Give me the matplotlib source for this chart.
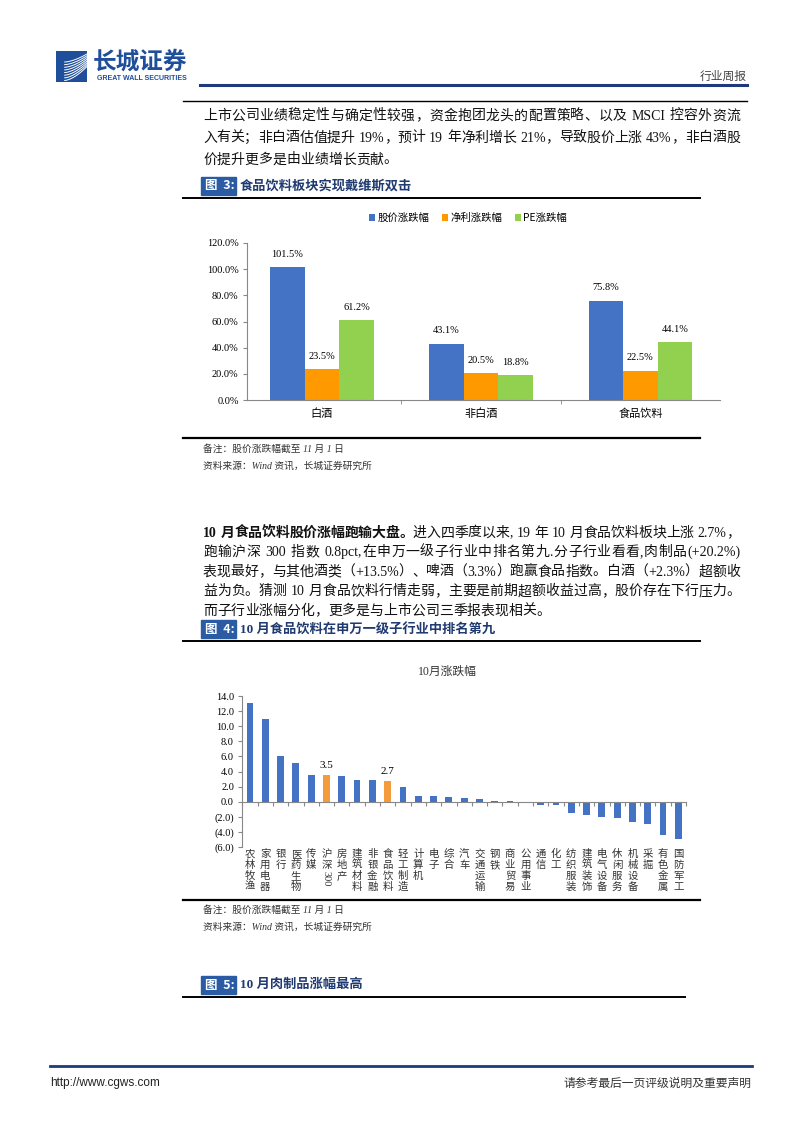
import numpy as np
import matplotlib
matplotlib.use("Agg")
import matplotlib.pyplot as plt
from matplotlib.lines import Line2D
from matplotlib.patches import Rectangle

SERIF = ["Liberation Serif", "Noto Sans CJK SC", "DejaVu Sans"]
SANS = ["Noto Sans CJK SC", "DejaVu Sans"]
plt.rcParams["font.family"] = SERIF

W, H = 802, 1133

# chart 3 data
cats3 = ["白酒", "非白酒", "食品饮料"]
series3 = ["股价涨跌幅", "净利涨跌幅", "PE涨跌幅"]
price_chg = [101.5, 43.1, 75.8]
profit_chg = [23.5, 20.5, 22.5]
pe_chg = [61.2, 18.8, 44.1]

# chart 4 data
industries = ["农林牧渔", "家用电器", "银行", "医药生物", "传媒", "沪深300", "房地产",
              "建筑材料", "非银金融", "食品饮料", "轻工制造", "计算机", "电子", "综合",
              "汽车", "交通运输", "钢铁", "商业贸易", "公用事业", "通信", "化工",
              "纺织服装", "建筑装饰", "电气设备", "休闲服务", "机械设备", "采掘",
              "有色金属", "国防军工"]
oct_chg = [13.1, 11.0, 6.0, 5.1, 3.5, 3.5, 3.4, 2.9, 2.9, 2.7, 2.0, 0.8, 0.7, 0.6,
           0.5, 0.4, 0.1, 0.05, -0.2, -0.5, -0.5, -1.5, -1.8, -2.0, -2.1, -2.7, -2.9,
           -4.4, -4.9]
highlight = ["沪深300", "食品饮料"]

# page text
para1 = ["上市公司业绩稳定性与确定性较强，资金抱团龙头的配置策略、以及 MSCI 控容外资流",
         "入有关；非白酒估值提升 19%，预计 19 年净利增长 21%，导致股价上涨 43%，非白酒股",
         "价提升更多是由业绩增长贡献。"]
para2_bold = "10 月食品饮料股价涨幅跑输大盘。"
para2 = ["进入四季度以来, 19 年 10 月食品饮料板块上涨 2.7%，",
         "跑输沪深 300 指数 0.8pct,在申万一级子行业中排名第九.分子行业看看,肉制品(+20.2%)",
         "表现最好，与其他酒类（+13.5%）、啤酒（3.3%）跑赢食品指数。白酒（+2.3%）超额收",
         "益为负。猜测 10 月食品饮料行情走弱，主要是前期超额收益过高，股价存在下行压力。",
         "而子行业涨幅分化，更多是与上市公司三季报表现相关。"]
note1 = "备注：股价涨跌幅截至 11 月 1 日"
note2 = "资料来源：Wind 资讯，长城证券研究所"

fig = plt.figure(figsize=(W / 100, H / 100), dpi=100)
renderer = fig.canvas.get_renderer()


def fx(x):
    return x / W


def fy(y):
    return 1 - y / H


def hline(x0, x1, y, color="black", lw=1.0):
    fig.add_artist(Line2D([fx(x0), fx(x1)], [fy(y), fy(y)], color=color, lw=lw))


def put(x, y, s, **kw):
    kw.setdefault("va", "center")
    return fig.text(fx(x), fy(y), s, **kw)


def tokens(s):
    out, buf = [], ""
    for ch in s:
        if ch.isascii() and ch != " ":
            buf += ch
        else:
            if buf:
                out.append(buf)
                buf = ""
            out.append(ch)
    if buf:
        out.append(buf)
    return out


def text_line(x0, x1, y, segs, size=10, justify=True):
    em = size * 100 / 72
    items = []
    for s, weight in segs:
        for tok in tokens(s):
            t = put(x0, y, tok, fontsize=size, fontweight=weight, family=SERIF,
                    ha="left", color="#111111")
            if tok == " ":
                w = em * 0.3
            elif not tok.isascii():
                w = em
            else:
                w = t.get_window_extent(renderer).width
            items.append((t, w))
    total = sum(w for _, w in items)
    gap = (x1 - x0 - total) / (len(items) - 1) if justify else 0
    x = x0
    for t, w in items:
        t.set_x(fx(x))
        x += w + gap


def caption(y, num, title, x1):
    fig.add_artist(Rectangle((fx(201), fy(y + 9)), 35 / W, 18 / H,
                             transform=fig.transFigure, color="#2B5BA3"))
    put(205, y, "图  " + num + ":", color="white", fontsize=9, fontweight="bold", family=SANS)
    put(240, y, title, color="#1F3A70", fontsize=9.5, fontweight="bold", family=SERIF)
    hline(183, x1, y + 12, lw=1.4)


def notes(y):
    put(203, y, note1, fontsize=7, style="italic", color="#333333", family=SERIF)
    put(203, y + 17, note2, fontsize=7, style="italic", color="#333333", family=SERIF)


# header
axl = fig.add_axes([fx(56), fy(82), 31 / W, 31 / H])
axl.set_xlim(0, 1)
axl.set_ylim(0, 1)
axl.axis("off")
axl.add_patch(Rectangle((0, 0), 1, 1, color="#1F4E9B"))
tt = np.linspace(0, 1, 60)
for k in range(8):
    axl.plot(0.28 + 0.72 * tt, 0.05 + k * 0.085 + 0.45 * tt ** 1.6 * (1 - k * 0.06),
             color="white", lw=0.7)
put(93, 62, "长城证券", fontsize=17, fontweight="bold", color="#1F4E9B", family=SANS)
put(97, 78, "GREAT WALL SECURITIES", fontsize=5, fontweight="bold", color="#1F4E9B",
    family=["Liberation Sans", "DejaVu Sans"])
hline(200, 747, 85, color="#1F3A7A", lw=2.2)
put(747, 76, "行业周报", fontsize=8.5, ha="right", color="#444444", family=SANS)
hline(183, 747, 101, lw=1.0)

# paragraph 1
for i, line in enumerate(para1):
    text_line(203, 740, 116 + 22 * i, [(line, "normal")], justify=i < 2)

# figure 3
caption(186, "3", "食品饮料板块实现戴维斯双击", 700)
ax3 = fig.add_axes([fx(247), fy(400), (720 - 247) / W, (400 - 243) / H])
x3 = np.arange(len(cats3))
bw = 0.217
colors3 = ["#4472C4", "#FF9900", "#92D050"]
for k, (vals, c, name) in enumerate(zip([price_chg, profit_chg, pe_chg], colors3, series3)):
    bars = ax3.bar(x3 + (k - 1) * bw, vals, bw, color=c, label=name)
    ax3.bar_label(bars, labels=[f"{v:.1f}%" for v in vals], padding=6, fontsize=7.5)
ax3.set_xlim(-0.47, 2.5)
ax3.set_ylim(0, 120)
yt3 = list(range(0, 121, 20))
ax3.set_yticks(yt3)
ax3.set_yticklabels([f"{v:.1f}%" for v in yt3], fontsize=7.5)
ax3.set_xticks(x3)
ax3.set_xticklabels(cats3, fontsize=8, family=SANS)
ax3.set_xticks([0.5, 1.5], minor=True)
ax3.tick_params(axis="x", which="major", length=0, pad=6)
ax3.tick_params(axis="x", which="minor", length=3, color="#888888")
ax3.tick_params(axis="y", length=3, color="#888888", pad=3)
for s in ["top", "right"]:
    ax3.spines[s].set_visible(False)
for s in ["left", "bottom"]:
    ax3.spines[s].set_color("#888888")
    ax3.spines[s].set_linewidth(0.8)
ax3.legend(loc="center", bbox_to_anchor=(fx(468), fy(218)), bbox_transform=fig.transFigure,
           ncol=3, frameon=False, handlelength=0.6, handleheight=0.6, handletextpad=0.2,
           columnspacing=1.2, prop={"family": SANS, "size": 7.5})
hline(183, 700, 438, lw=1.6)
notes(449)

# paragraph 2
for i, line in enumerate(para2):
    segs = [(line, "normal")]
    if i == 0:
        segs = [(para2_bold, "bold")] + segs
    text_line(203, 740, 533 + 19.5 * i, segs, justify=i < 4)

# figure 4
caption(629, "4", "10 月食品饮料在申万一级子行业中排名第九", 700)
put(447, 672, "10月涨跌幅", fontsize=8.5, ha="center", color="#333333")
ax4 = fig.add_axes([fx(242.3), fy(847), (686 - 242.3) / W, (847 - 696) / H])
x4 = np.arange(len(industries))
colors4 = ["#F39C3C" if n in highlight else "#4472C4" for n in industries]
bars4 = ax4.bar(x4, oct_chg, 0.45, color=colors4)
ax4.bar_label(bars4, labels=[f"{v:.1f}" if n in highlight else "" for n, v in zip(industries, oct_chg)],
              padding=4, fontsize=8)
ax4.set_xlim(-0.5, len(industries) - 0.5)
ax4.set_ylim(-6, 14)
yt4 = list(range(-6, 15, 2))
ax4.set_yticks(yt4)
ax4.set_yticklabels([f"{v:.1f}" if v >= 0 else f"({-v:.1f})" for v in yt4], fontsize=7.5)
ax4.set_xticks(np.arange(-0.5, len(industries), 1))
ax4.set_xticklabels([])
ax4.spines["bottom"].set_position(("data", 0))
for s in ["top", "right"]:
    ax4.spines[s].set_visible(False)
for s in ["left", "bottom"]:
    ax4.spines[s].set_color("#888888")
    ax4.spines[s].set_linewidth(0.8)
ax4.tick_params(axis="x", length=3, color="#888888")
ax4.tick_params(axis="y", length=3, color="#888888", pad=3)
for i, name in enumerate(industries):
    xd = ax4.transData.transform((i, 0))[0]
    chars = list(name)
    if name == "沪深300":
        chars = ["沪", "深"]
        put(xd, 879, "300", fontsize=7.5, rotation=270, ha="center", color="#333333")
    for j, ch in enumerate(chars):
        put(xd, 854 + 11 * j, ch, fontsize=7.5, ha="center", color="#333333", family=SANS)
hline(183, 700, 900, lw=1.6)
notes(910)

# figure 5 caption
caption(985, "5", "10 月肉制品涨幅最高", 685)

# footer
hline(50, 752, 1066, color="#1F3A7A", lw=2.0)
put(50, 1083, "http://www.cgws.com", fontsize=8.5, color="#222222",
    family=["Liberation Sans", "DejaVu Sans"])
put(752, 1083, "请参考最后一页评级说明及重要声明", fontsize=8.5, ha="right",
    color="#333333", family=SANS)

fig.savefig("out.png", dpi=100)
